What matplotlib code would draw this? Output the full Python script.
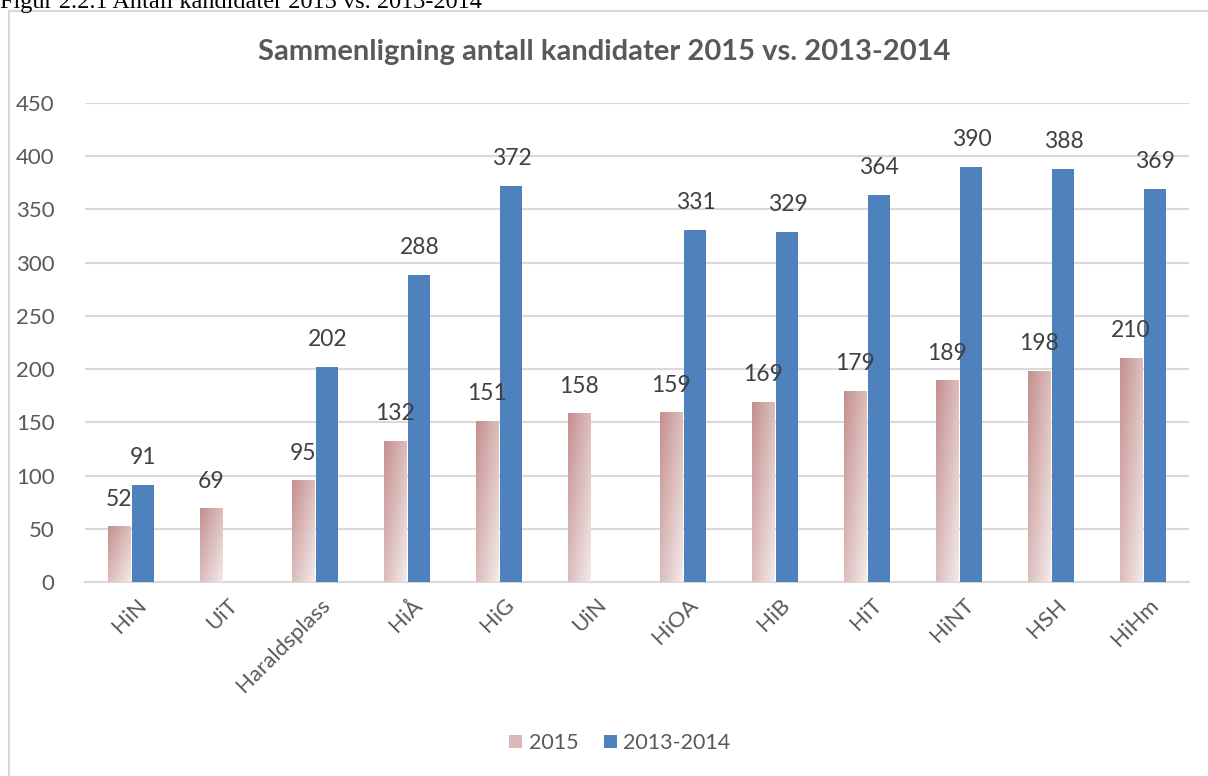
import numpy as np
import matplotlib
matplotlib.use("Agg")
import matplotlib.pyplot as plt
from matplotlib.colors import LinearSegmentedColormap
from matplotlib.patches import Patch
from matplotlib.lines import Line2D
import matplotlib.transforms as mtransforms

schools = ["HiN", "UiT", "Haraldsplass", "HiÅ", "HiG", "UiN",
           "HiOA", "HiB", "HiT", "HiNT", "HSH", "HiHm"]
v2015 = [52, 69, 95, 132, 151, 158, 159, 169, 179, 189, 198, 210]
v1314 = [91, np.nan, 202, 288, 372, np.nan, 331, 329, 364, 390, 388, 369]
yticks = list(range(0, 451, 50))

FONT = "Lato"
GREY = "#595959"
BLUE = "#4f81bd"
GRID = "#d9d9d9"

fig = plt.figure(figsize=(12.08, 7.76), dpi=100)
ax = fig.add_axes([85 / 1208, 194 / 776, 1104 / 1208, 479 / 776])

x = np.arange(len(schools))
w = 0.24
off = 0.135

grad = LinearSegmentedColormap.from_list("pinkgrad", ["#c4908f", "#f4eaea"])
bars15 = ax.bar(x - off, v2015, w, color="none", zorder=3)
# diagonal gradient: dark at top-left, light at bottom-right
gx, gy = np.meshgrid(np.linspace(0, 1, 40), np.linspace(0, 1, 40))
gimg = (gx + (1 - gy)) / 2
for b in bars15:
    bx, by = b.get_x(), b.get_y()
    bw, bh = b.get_width(), b.get_height()
    ax.imshow(gimg, cmap=grad, extent=(bx, bx + bw, by, by + bh),
              origin="lower", aspect="auto", zorder=3, interpolation="bilinear")

bars1314 = ax.bar(x + off, v1314, w, color=BLUE, zorder=3)

lab_kw = dict(ha="center", va="bottom", fontsize=16.5, color="#404040",
              family=FONT, zorder=4)
for xi, v in zip(x - off, v2015):
    ax.text(xi, v + 16, f"{v}", **lab_kw)
for xi, v in zip(x + off, v1314):
    if not np.isnan(v):
        ax.text(xi, v + 16, f"{int(v)}", **lab_kw)

ax.set_xlim(-0.5, len(schools) - 0.5)
ax.set_ylim(0, 450)
ax.set_yticks(yticks)
ax.yaxis.grid(True, color=GRID, linewidth=1.5, zorder=0)
ax.set_axisbelow(True)
for s in ["top", "right", "left"]:
    ax.spines[s].set_visible(False)
ax.spines["bottom"].set_color(GRID)
ax.spines["bottom"].set_linewidth(1.5)
ax.tick_params(axis="both", length=0, colors=GREY, labelsize=16)
ax.tick_params(axis="y", pad=22)
for t in ax.get_yticklabels():
    t.set_family(FONT)

ax.set_xticks(x)
ax.set_xticklabels(schools, rotation=45, ha="right", va="top",
                   rotation_mode="anchor", family=FONT, fontsize=16, color=GREY)
shift = mtransforms.ScaledTranslation(5 / 100, -8 / 100, fig.dpi_scale_trans)
for t in ax.get_xticklabels():
    t.set_transform(t.get_transform() + shift)

fig.text(0.5, 1 - 52 / 776, "Sammenligning antall kandidater 2015 vs. 2013-2014",
         ha="center", va="center", fontsize=21, fontweight="bold",
         color=GREY, family=FONT)

# cut-off caption above the chart frame
fig.text(0, 1 - 8 / 776, "Figur 2.2.1 Antall kandidater 2015 vs. 2013-2014",
         ha="left", va="baseline", fontsize=17.5, family="Liberation Serif",
         color="black")

# chart frame (left and top edges visible)
fig.add_artist(Line2D([9 / 1208, 9 / 1208], [0, 1 - 11 / 776],
                      color=GRID, linewidth=1.5, transform=fig.transFigure))
fig.add_artist(Line2D([9 / 1208, 1], [1 - 11 / 776, 1 - 11 / 776],
                      color=GRID, linewidth=1.5, transform=fig.transFigure))

handles = [Patch(facecolor="#dcb9b9", edgecolor="none", label="2015"),
           Patch(facecolor=BLUE, edgecolor="none", label="2013-2014")]
leg = fig.legend(handles=handles, loc="center", bbox_to_anchor=(620 / 1208, 1 - 743 / 776),
                 ncol=2, frameon=False, handlelength=0.6, handleheight=0.6,
                 handletextpad=0.3, columnspacing=1.2,
                 prop={"family": FONT, "size": 15.5})
for t in leg.get_texts():
    t.set_color(GREY)

fig.savefig("out.png", dpi=100)
